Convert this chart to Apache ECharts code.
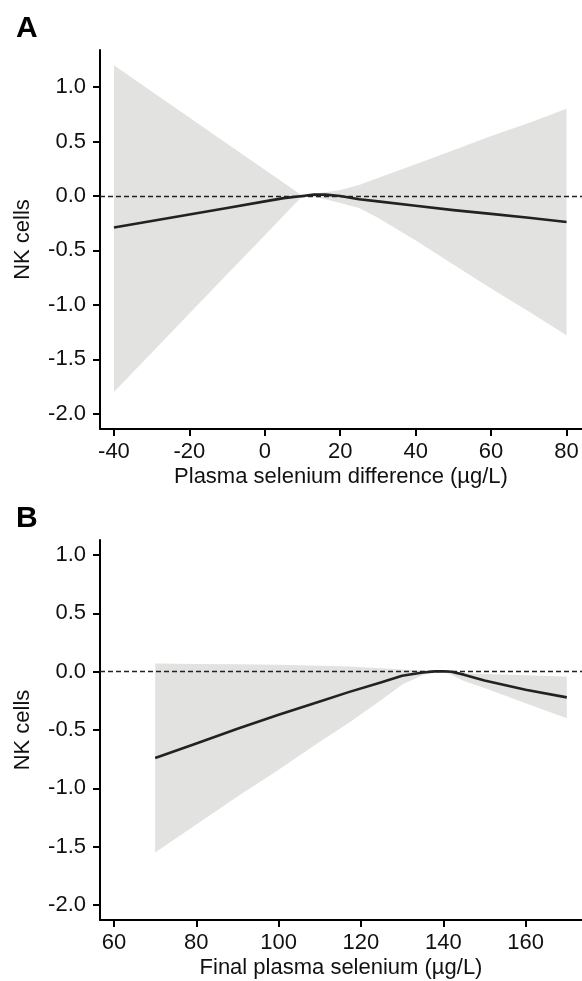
<!DOCTYPE html>
<html>
<head>
<meta charset="utf-8">
<script src="https://cdn.jsdelivr.net/npm/echarts@6/dist/echarts.min.js"></script>
<style>
  html, body { margin: 0; padding: 0; background: #fff; }
  #chart { width: 582px; height: 981px; }
</style>
</head>
<body>
<div id="chart"></div>
<script>
// panel A: plasma selenium difference
const xA = [-40, -30, -20, -10, 0, 5, 10, 13, 16, 20, 25, 30, 40, 50, 60, 70, 80];
const lineA = [-0.29, -0.23, -0.17, -0.11, -0.05, -0.02, 0.0, 0.012, 0.012, 0.0, -0.03, -0.05, -0.09, -0.13, -0.165, -0.20, -0.24];
const upperA = [1.2, 0.96, 0.72, 0.48, 0.24, 0.12, 0.0, 0.02, 0.035, 0.055, 0.10, 0.165, 0.29, 0.42, 0.55, 0.67, 0.80];
const lowerA = [-1.8, -1.44, -1.08, -0.72, -0.36, -0.18, 0.0, -0.01, -0.03, -0.065, -0.11, -0.20, -0.41, -0.63, -0.85, -1.06, -1.28];

// panel B: final plasma selenium
const xB = [70, 80, 90, 100, 110, 117, 125, 130, 135, 138, 140, 142, 145, 150, 160, 170];
const lineB = [-0.74, -0.615, -0.49, -0.37, -0.255, -0.175, -0.09, -0.035, -0.007, 0.003, 0.004, 0.0, -0.025, -0.075, -0.155, -0.22];
const upperB = [0.07, 0.067, 0.063, 0.06, 0.052, 0.045, 0.03, 0.02, 0.01, 0.0, 0.0, -0.005, -0.01, -0.02, -0.03, -0.04];
const lowerB = [-1.55, -1.31, -1.07, -0.84, -0.60, -0.44, -0.24, -0.11, -0.03, 0.0, 0.0, -0.025, -0.08, -0.14, -0.27, -0.40];

// tick labels
const xTicksA = [-40, -20, 0, 20, 40, 60, 80];
const xTicksB = [60, 80, 100, 120, 140, 160];
const yTicks = [-2.0, -1.5, -1.0, -0.5, 0.0, 0.5, 1.0];

const FONT = "'Liberation Sans', Arial, Helvetica, sans-serif";
const BAND = '#e2e2e0';
const INK = '#222';

function pairs(xs, ys) {
  return xs.map((x, i) => [x, ys[i]]);
}

function xAxisCfg(idx, name, ticks, min, max) {
  return {
    type: 'value', gridIndex: idx, min: min, max: max,
    name: name, nameLocation: 'middle', nameGap: 37,
    nameTextStyle: { fontFamily: FONT, fontSize: 22, color: '#111' },
    axisLine: { onZero: false, lineStyle: { color: '#000', width: 2 } },
    axisTick: { length: 7, lineStyle: { width: 2, color: '#000' }, customValues: ticks },
    axisLabel: { fontFamily: FONT, fontSize: 22, color: '#111', margin: 12, customValues: ticks },
    splitLine: { show: false }
  };
}

function yAxisCfg(idx, min, max) {
  return {
    type: 'value', gridIndex: idx, min: min, max: max,
    name: 'NK cells', nameLocation: 'middle', nameGap: 66,
    nameTextStyle: { fontFamily: FONT, fontSize: 22, color: '#111' },
    axisLine: { show: true, onZero: false, lineStyle: { color: '#000', width: 2 } },
    axisTick: { show: true, length: 7, lineStyle: { width: 2, color: '#000' }, customValues: yTicks },
    axisLabel: {
      fontFamily: FONT, fontSize: 22, color: '#111', margin: 14,
      customValues: yTicks,
      formatter: v => v.toFixed(1)
    },
    splitLine: { show: false }
  };
}

// confidence band as one polygon, placed through the axes with api.coord
function bandSeries(idx, xs, lo, hi) {
  return {
    type: 'custom', xAxisIndex: idx, yAxisIndex: idx, silent: true, z: 1,
    data: xs.map((x, i) => [x, lo[i], hi[i]]),
    encode: { x: 0, y: [1, 2] },
    renderItem: function (params, api) {
      if (params.dataIndex !== 0) return null;
      const pts = [];
      for (let i = 0; i < xs.length; i++) pts.push(api.coord([xs[i], hi[i]]));
      for (let i = xs.length - 1; i >= 0; i--) pts.push(api.coord([xs[i], lo[i]]));
      return {
        type: 'polygon',
        shape: { points: pts },
        style: { fill: BAND, stroke: null }
      };
    }
  };
}

function curveSeries(idx, xs, ys) {
  return {
    type: 'line', xAxisIndex: idx, yAxisIndex: idx, data: pairs(xs, ys),
    symbol: 'none', smooth: false, silent: true,
    lineStyle: { color: INK, width: 2.6, join: 'round' }, z: 5,
    markLine: {
      silent: true, symbol: 'none', label: { show: false },
      lineStyle: { color: INK, width: 1.3, type: [5, 3] },
      data: [{ yAxis: 0 }]
    }
  };
}

const chart = echarts.init(document.getElementById('chart'), null, { renderer: 'canvas' });
chart.setOption({
  animation: false,
  backgroundColor: '#fff',
  textStyle: { fontFamily: FONT },
  title: [
    { text: 'A', left: 11, top: 9, textStyle: { fontFamily: FONT, fontSize: 30, fontWeight: 'bold', color: '#000' } },
    { text: 'B', left: 11, top: 499, textStyle: { fontFamily: FONT, fontSize: 30, fontWeight: 'bold', color: '#000' } }
  ],
  grid: [
    { left: 100, right: 0, top: 50, height: 379 },
    { left: 100, right: 0, top: 540, height: 380 }
  ],
  xAxis: [
    xAxisCfg(0, 'Plasma selenium difference (µg/L)', xTicksA, -43.7, 84.1),
    xAxisCfg(1, 'Final plasma selenium (µg/L)', xTicksB, 56.6, 173.7)
  ],
  yAxis: [
    yAxisCfg(0, -2.14, 1.34),
    yAxisCfg(1, -2.13, 1.13)
  ],
  series: [
    bandSeries(0, xA, lowerA, upperA),
    curveSeries(0, xA, lineA),
    bandSeries(1, xB, lowerB, upperB),
    curveSeries(1, xB, lineB)
  ]
});
</script>
</body>
</html>
